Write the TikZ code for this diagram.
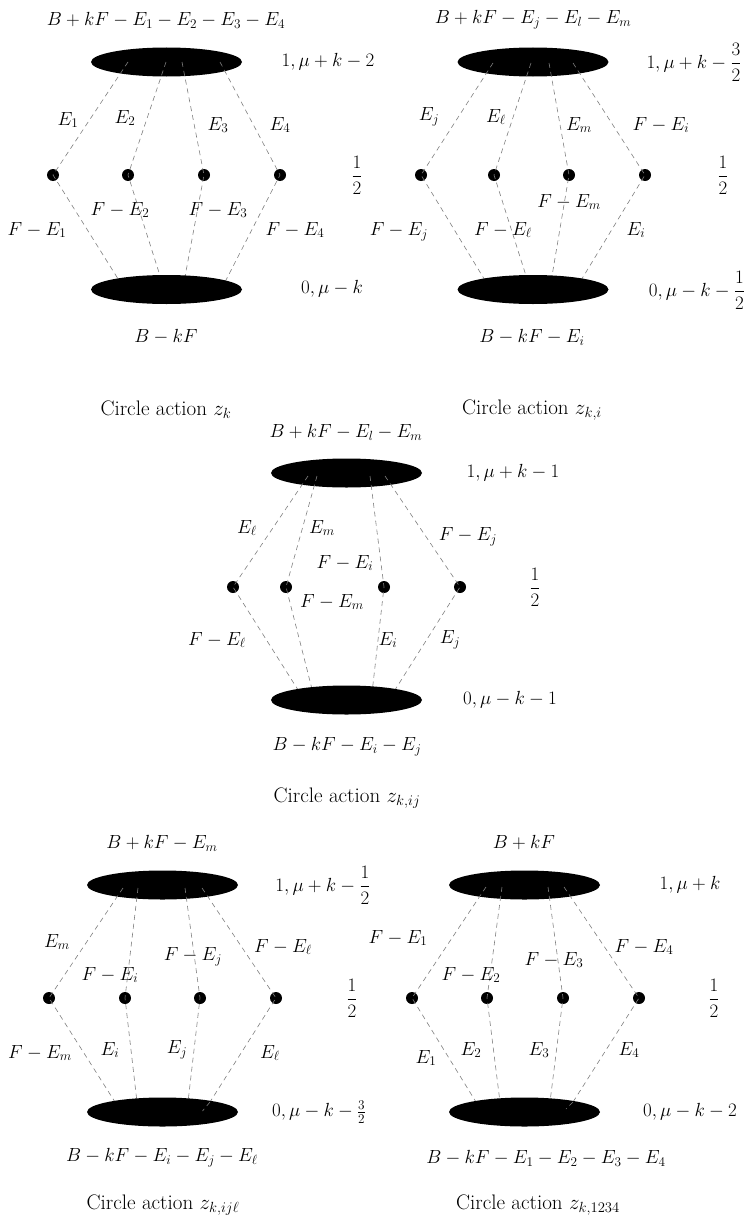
\RequirePackage{fix-cm}
\documentclass[tikz,border=0pt]{standalone}
\usepackage{amsmath}
\usetikzlibrary{shapes.geometric}
\tikzset{
  blob/.style={ellipse, fill=black, minimum width=151pt, minimum height=29pt, inner sep=0pt},
  pt/.style={circle, fill=black, minimum size=12pt, inner sep=0pt},
  edge/.style={draw=gray, dash pattern=on 5pt off 4pt, line width=0.6pt},
  lab/.style={inner sep=0pt},
  captxt/.style={inner sep=0pt, font=\fontsize{21}{24}\selectfont},
}
\begin{document}
\begin{tikzpicture}[x=1pt,y=-1pt,font=\fontsize{19}{22}\selectfont]
\useasboundingbox (0,0) rectangle (752,1223);
\fill[white] (0,0) rectangle (752,1223);

% ---------------- Diagram 1: z_k ----------------
\node[lab] (A1top) at (166,20) {$B + kF - E_1 - E_2 - E_3 - E_4$};
\node[blob] (A1t) at (166.5,62) {};
\foreach \i/\dx/\tx/\bx in {1/53/128/120, 2/128/166/162, 3/204/182/184, 4/280/220/225} {
  \node[pt] (a\i) at (\dx,175) {};
  \coordinate (at\i) at (\tx,62);
  \coordinate (ab\i) at (\bx,282);
  \draw[edge] (at\i) -- (a\i.center) -- (ab\i);
}
\node[blob] (A1b) at (166.5,289.5) {};
\node[lab] (A1r1) at (328,62) {$1, \mu + k - 2$};
\node[lab] (A1r2) at (357,175) {$\dfrac{1}{2}$};
\node[lab] (A1r3) at (332,289) {$0, \mu - k$};
\node[lab] (A1bot) at (166,337) {$B - kF$};
\node[captxt] (A1cap) at (166,410) {Circle action $z_k$};
\node[lab] at (68,120) {$E_1$};
\node[lab] at (125,118) {$E_2$};
\node[lab] at (218,125) {$E_3$};
\node[lab] at (280,125) {$E_4$};
\node[lab] at (120,210) {$F - E_2$};
\node[lab] at (218,210) {$F - E_3$};
\node[lab] at (37,230) {$F - E_1$};
\node[lab] at (295,230) {$F - E_4$};

% ---------------- Diagram 2: z_{k,i} ----------------
\node[lab] (A2top) at (533,20) {$B + kF - E_j - E_l - E_m$};
\node[blob] (A2t) at (533,62) {};
\foreach \i/\dx/\tx/\bx in {1/421/493/486, 2/494/531/528, 3/569/549/551, 4/645/573/580} {
  \node[pt] (b\i) at (\dx,175) {};
  \coordinate (bt\i) at (\tx,63);
  \coordinate (bb\i) at (\bx,282);
  \draw[edge] (bt\i) -- (b\i.center) -- (bb\i);
}
\node[blob] (A2b) at (533,289.5) {};
\node[lab] (A2r1) at (694,62) {$1, \mu + k - \dfrac{3}{2}$};
\node[lab] (A2r2) at (723,175) {$\dfrac{1}{2}$};
\node[lab] (A2r3) at (697,290) {$0, \mu - k - \dfrac{1}{2}$};
\node[lab] (A2bot) at (532,337) {$B - kF - E_i$};
\node[captxt] (A2cap) at (532,410) {Circle action $z_{k,i}$};
\node[lab] at (429,117) {$E_j$};
\node[lab] at (496,117) {$E_\ell$};
\node[lab] at (579,125) {$E_m$};
\node[lab] at (661,125) {$F - E_i$};
\node[lab] at (569,202) {$F - E_m$};
\node[lab] at (503,230) {$F - E_\ell$};
\node[lab] at (399,232) {$F - E_j$};
\node[lab] at (636,230) {$E_i$};

% ---------------- Diagram 3: z_{k,ij} ----------------
\node[lab] (A3top) at (346,432) {$B + kF - E_l - E_m$};
\node[blob] (A3t) at (346.5,473) {};
\foreach \i/\dx/\tx/\bx in {1/233/308/300, 2/286/317/313, 3/384/370/372, 4/460/385/393} {
  \node[pt] (c\i) at (\dx,587) {};
  \coordinate (ct\i) at (\tx,476);
  \coordinate (cb\i) at (\bx,693);
  \draw[edge] (ct\i) -- (c\i.center) -- (cb\i);
}
\node[blob] (A3b) at (346.5,700) {};
\node[lab] (A3r1) at (513,473) {$1, \mu + k - 1$};
\node[lab] (A3r2) at (535,587) {$\dfrac{1}{2}$};
\node[lab] (A3r3) at (510,700) {$0, \mu - k - 1$};
\node[lab] (A3bot) at (347,747) {$B - kF - E_i - E_j$};
\node[captxt] (A3cap) at (347,798) {Circle action $z_{k,ij}$};
\node[lab] at (247,528) {$E_\ell$};
\node[lab] at (322,528) {$E_m$};
\node[lab] at (468,537) {$F - E_j$};
\node[lab] at (345,563) {$F - E_i$};
\node[lab] at (332,602) {$F - E_m$};
\node[lab] at (217,640) {$F - E_\ell$};
\node[lab] at (388,640) {$E_i$};
\node[lab] at (450,640) {$E_j$};

% ---------------- Diagram 4: z_{k,ijl} ----------------
\node[lab] (A4top) at (162,843) {$B + kF - E_m$};
\node[blob] (A4t) at (162.5,885) {};
\foreach \i/\dx/\tx/\bx in {1/49/123/115, 2/125/138/137, 3/200/185/188, 4/276/202/210} {
  \node[pt] (d\i) at (\dx,998) {};
  \coordinate (dt\i) at (\tx,888);
  \coordinate (db\i) at (\bx,1102);
  \draw[edge] (dt\i) -- (d\i.center) -- (db\i);
}
\node[blob] (A4b) at (162.5,1112) {};
\coordinate (dx4) at (202.5,1111);
\draw[edge] (db4) -- (dx4);
\node[lab] (A4r1) at (323,885) {$1, \mu + k - \dfrac{1}{2}$};
\node[lab] (A4r2) at (352,998) {$\dfrac{1}{2}$};
\node[lab] (A4r3) at (319,1112) {$0, \mu - k - \tfrac{3}{2}$};
\node[lab] (A4bot) at (162,1158) {$B - kF - E_i - E_j - E_\ell$};
\node[captxt] (A4cap) at (163,1205) {Circle action $z_{k,ij\ell}$};
\node[lab] at (57,942) {$E_m$};
\node[lab] at (110,975) {$F - E_i$};
\node[lab] at (193,957) {$F - E_j$};
\node[lab] at (283,947) {$F - E_\ell$};
\node[lab] at (40,1053) {$F - E_m$};
\node[lab] at (110,1050) {$E_i$};
\node[lab] at (177,1050) {$E_j$};
\node[lab] at (270,1053) {$E_\ell$};

% ---------------- Diagram 5: z_{k,1234} ----------------
\node[lab] (A5top) at (524,842) {$B + kF$};
\node[blob] (A5t) at (524.5,885) {};
\foreach \i/\dx/\tx/\bx in {1/412/486/476, 2/487/502/500, 3/563/548/550, 4/639/564/573} {
  \node[pt] (e\i) at (\dx,998) {};
  \coordinate (et\i) at (\tx,887);
  \coordinate (eb\i) at (\bx,1102);
  \draw[edge] (et\i) -- (e\i.center) -- (eb\i);
}
\node[blob] (A5b) at (524.5,1112) {};
\coordinate (ex4) at (566,1109);
\draw[edge] (eb4) -- (ex4);
\node[lab] (A5r1) at (690,885) {$1, \mu + k$};
\node[lab] (A5r2) at (714,998) {$\dfrac{1}{2}$};
\node[lab] (A5r3) at (690,1112) {$0, \mu - k - 2$};
\node[lab] (A5bot) at (546,1158) {$B - kF - E_1 - E_2 - E_3 - E_4$};
\node[captxt] (A5cap) at (538,1205) {Circle action $z_{k,1234}$};
\node[lab] at (398,938) {$F - E_1$};
\node[lab] at (471,975) {$F - E_2$};
\node[lab] at (554,960) {$F - E_3$};
\node[lab] at (644,947) {$F - E_4$};
\node[lab] at (426,1058) {$E_1$};
\node[lab] at (471,1050) {$E_2$};
\node[lab] at (539,1050) {$E_3$};
\node[lab] at (629,1050) {$E_4$};
\end{tikzpicture}
\end{document}
